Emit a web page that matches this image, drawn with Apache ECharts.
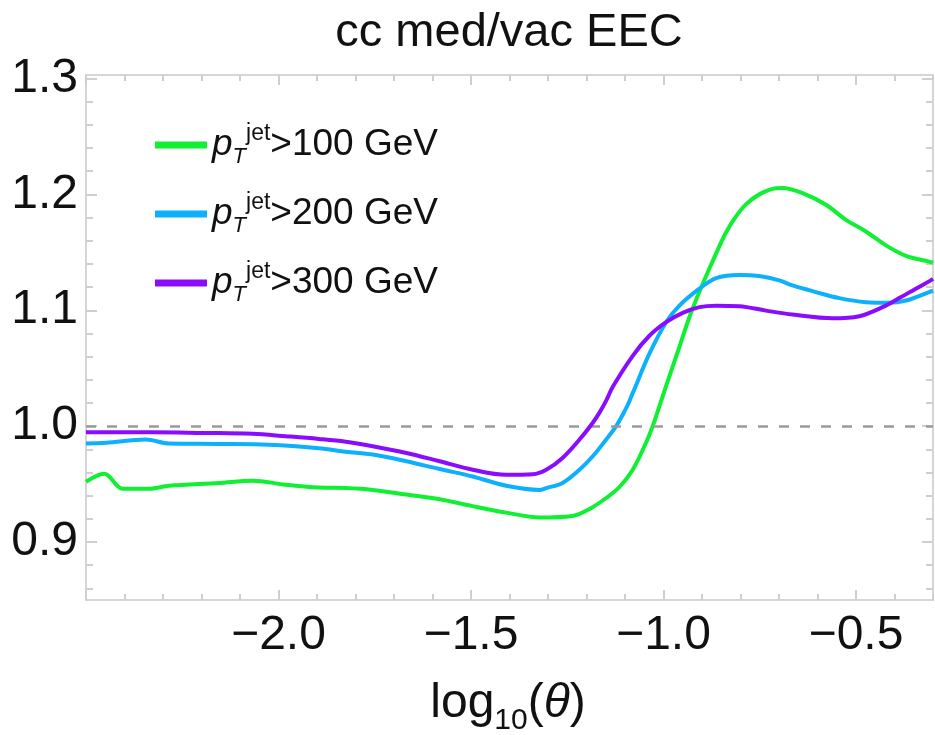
<!DOCTYPE html>
<html><head><meta charset="utf-8">
<script src="https://cdn.jsdelivr.net/npm/echarts@6/dist/echarts.min.js"></script>
<style>html,body{margin:0;padding:0;background:#fff}#c{width:935px;height:735px}</style>
</head><body><div id="c"></div>
<script>
// ---- data ----
const titleText = 'cc med/vac EEC';
const xRange = [-2.5, -0.3];
const yRange = [0.85, 1.303];
const xMajorTicks = [-2.0, -1.5, -1.0, -0.5];
const yMajorTicks = [0.9, 1.0, 1.1, 1.2, 1.3];
const refLevel = 1.0;
const ptCuts = ['100', '200', '300'];

const green100 = [[-2.5,0.952],[-2.4525,0.959],[-2.4048,0.946],[-2.3365,0.946],[-2.2846,0.9486],[-2.1549,0.951],[-2.0675,0.953],[-1.981,0.9494],[-1.8954,0.947],[-1.8254,0.9466],[-1.7553,0.945],[-1.6679,0.941],[-1.5815,0.937],[-1.4958,0.931],[-1.4084,0.9254],[-1.322,0.9212],[-1.2363,0.9225],[-1.1922,0.9285],[-1.1489,0.938],[-1.1144,0.9475],[-1.0799,0.9624],[-1.0451,0.9859],[-1.028,1.0],[-1.0106,1.0173],[-0.9932,1.0347],[-0.9587,1.0683],[-0.9328,1.094],[-0.9068,1.1159],[-0.8809,1.1359],[-0.8635,1.1489],[-0.8376,1.1671],[-0.8117,1.181],[-0.7857,1.1914],[-0.7512,1.2],[-0.7078,1.2053],[-0.6906,1.2055],[-0.6388,1.201],[-0.5781,1.191],[-0.526,1.178],[-0.4743,1.168],[-0.4223,1.156],[-0.3704,1.147],[-0.31,1.142],[-0.3,1.141]];
const blue200 = [[-2.5,0.985],[-2.448,0.9856],[-2.3443,0.9885],[-2.2846,0.985],[-2.1549,0.9847],[-2.0252,0.984],[-1.8954,0.981],[-1.8254,0.978],[-1.7553,0.9755],[-1.6679,0.9697],[-1.5815,0.963],[-1.4958,0.9566],[-1.4084,0.9486],[-1.322,0.945],[-1.3046,0.9466],[-1.2623,0.951],[-1.2182,0.9624],[-1.1837,0.974],[-1.1489,0.9885],[-1.123,1.0],[-1.097,1.0155],[-1.0799,1.0285],[-1.0366,1.0625],[-0.9932,1.0897],[-0.9587,1.104],[-0.9068,1.1186],[-0.8635,1.1278],[-0.803,1.1305],[-0.7512,1.1295],[-0.6993,1.1258],[-0.6647,1.1214],[-0.6041,1.1157],[-0.5435,1.1105],[-0.4743,1.107],[-0.4137,1.1064],[-0.3704,1.1084],[-0.31,1.1157],[-0.3,1.117]];
const purple300 = [[-2.5,0.9948],[-2.327,0.9948],[-2.1972,0.9942],[-2.0675,0.9934],[-1.981,0.9913],[-1.8954,0.989],[-1.8254,0.9866],[-1.7553,0.9827],[-1.6679,0.9769],[-1.5815,0.9697],[-1.4958,0.9624],[-1.4084,0.958],[-1.3394,0.9585],[-1.3046,0.9624],[-1.2623,0.9726],[-1.2182,0.9885],[-1.1837,1.003],[-1.1663,1.0117],[-1.1489,1.022],[-1.1317,1.034],[-1.0799,1.0607],[-1.0366,1.078],[-0.9932,1.0897],[-0.9501,1.0977],[-0.9068,1.1027],[-0.8635,1.104],[-0.803,1.1035],[-0.7338,1.0997],[-0.6647,1.0963],[-0.5608,1.0931],[-0.4915,1.0949],[-0.431,1.1027],[-0.3877,1.1105],[-0.3445,1.1186],[-0.3056,1.1258],[-0.3,1.127]];

// ---- build ----
const xMinorTicks = [], yMinorTicks = [];
for (let i = 0; i <= 22; i++) xMinorTicks.push(Math.round((-2.5 + 0.1 * i) * 100) / 100);
for (let i = 0; i <= 22; i++) yMinorTicks.push(Math.round((0.86 + 0.02 * i) * 100) / 100);
const xMajorAll = [-2.5].concat(xMajorTicks);

const FONT = 'Liberation Sans, Arial, sans-serif';
const frameColor = '#d6d6d6';
const tickColor = '#cfcfcf';
const fmt = v => (v < 0 ? '\u2212' : '') + Math.abs(v).toFixed(1);

function xAx(pos, ticks, len, labels, showLine) {
  return {
    type: 'value', position: pos, min: xRange[0], max: xRange[1],
    axisLine: {show: showLine, onZero: false, lineStyle: {color: frameColor, width: 2}},
    axisTick: {show: true, inside: true, length: len, customValues: ticks, lineStyle: {color: tickColor, width: 2}},
    axisLabel: labels ? {show: true, customValues: labels, formatter: fmt, margin: 12,
      fontFamily: FONT, fontSize: 48, color: '#111'} : {show: false},
    splitLine: {show: false}
  };
}
function yAx(pos, ticks, len, labels, showLine) {
  return {
    type: 'value', position: pos, min: yRange[0], max: yRange[1],
    axisLine: {show: showLine, onZero: false, lineStyle: {color: frameColor, width: 2}},
    axisTick: {show: true, inside: true, length: len, customValues: ticks, lineStyle: {color: tickColor, width: 2}},
    axisLabel: labels ? {show: true, customValues: labels, formatter: v => v.toFixed(1), margin: 8,
      fontFamily: FONT, fontSize: 48, color: '#111'} : {show: false},
    splitLine: {show: false}
  };
}

const colors = ['#10f032', '#0cb0fc', '#8a0cff'];
const datasets = [green100, blue200, purple300];
const names = ptCuts.map(c => 'pT>' + c + ' GeV');

const series = datasets.map((d, i) => ({
  name: names[i], type: 'line', data: d, xAxisIndex: 0, yAxisIndex: 0,
  showSymbol: false, smooth: 0.35,
  lineStyle: {width: 4, color: colors[i]}, itemStyle: {color: colors[i]},
  z: 3 + i,
  markLine: i === 0 ? {silent: true, symbol: 'none', label: {show: false},
    lineStyle: {color: '#9a9a9a', type: [10, 11], width: 2.5}, data: [{yAxis: refLevel}]} : undefined
}));

const chart = echarts.init(document.getElementById('c'), null, {renderer: 'canvas'});
chart.setOption({
  animation: false,
  backgroundColor: '#fff',
  grid: {left: 86, right: 2, top: 75, bottom: 135, containLabel: false},
  xAxis: [
    xAx('bottom', xMajorAll, 10, xMajorTicks, true),
    xAx('bottom', xMinorTicks, 6, null, false),
    xAx('top', xMajorAll, 10, null, true),
    xAx('top', xMinorTicks, 6, null, false)
  ],
  yAxis: [
    yAx('left', yMajorTicks, 11, yMajorTicks, true),
    yAx('left', yMinorTicks, 7, null, false),
    yAx('right', yMajorTicks, 11, null, true),
    yAx('right', yMinorTicks, 7, null, false)
  ],
  legend: {
    orient: 'vertical', left: 150, top: 117, itemWidth: 52, itemHeight: 7, itemGap: 23,
    icon: 'rect', data: names,
    formatter: n => {
      const c = ptCuts[names.indexOf(n)];
      return '{p|p}{t|T}{j|jet}{n|>' + c + ' GeV}';
    },
    textStyle: {
      fontFamily: FONT, color: '#111',
      rich: {
        p: {fontSize: 37, fontStyle: 'italic', lineHeight: 46, verticalAlign: 'middle', fontFamily: FONT},
        t: {fontSize: 22, fontStyle: 'italic', lineHeight: 22, verticalAlign: 'bottom', fontFamily: FONT},
        j: {fontSize: 23, lineHeight: 24, verticalAlign: 'top', fontFamily: FONT},
        n: {fontSize: 37, lineHeight: 46, verticalAlign: 'middle', fontFamily: FONT}
      }
    }
  },
  graphic: [
    {type: 'text', x: 509, y: 33, style: {text: titleText, x: 0, y: 0, align: 'center', verticalAlign: 'middle',
      fontFamily: FONT, fontSize: 47, fill: '#111'}},
    {type: 'text', x: 508, y: 708, style: {text: '{m|log}{s|10}{m|(}{i|\u03B8}{m|)}', x: 0, y: 0, align: 'center', verticalAlign: 'middle',
      rich: {
        m: {fontSize: 48, lineHeight: 56, verticalAlign: 'top', fontFamily: FONT, fill: '#111'},
        i: {fontSize: 48, lineHeight: 56, verticalAlign: 'top', fontStyle: 'italic', fontFamily: FONT, fill: '#111'},
        s: {fontSize: 30, lineHeight: 30, verticalAlign: 'bottom', fontFamily: FONT, fill: '#111'}
      }}}
  ],
  series: series
});
</script>
</body></html>
